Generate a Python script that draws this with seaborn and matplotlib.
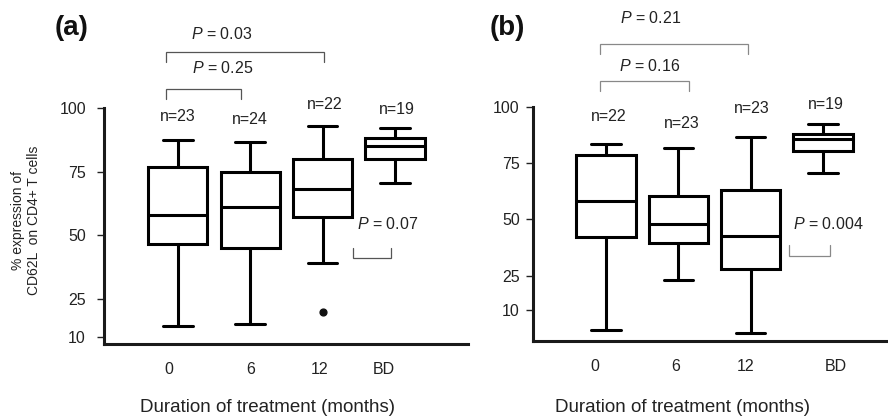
import numpy as np
import pandas as pd
import matplotlib
matplotlib.use("Agg")
import matplotlib.pyplot as plt
import seaborn as sns

# ---------------- data ----------------
groups = ["0", "6", "12", "BD"]

# panel (a): five-number summaries per group
a_low = [14.0, 15.1, 38.9, 70.6]
a_q1 = [46.6, 44.9, 56.9, 79.8]
a_med = [57.8, 60.9, 68.1, 85.2]
a_q3 = [76.7, 74.9, 79.8, 88.2]
a_high = [87.3, 86.5, 92.8, 92.0]
a_n = ["n=23", "n=24", "n=22", "n=19"]
a_outlier_group = [2]
a_outlier_value = [19.8]

# panel (b)
b_low = [0.9, 23.1, -0.3, 70.7]
b_q1 = [42.1, 39.6, 28.0, 80.4]
b_med = [58.4, 47.9, 42.7, 85.8]
b_q3 = [78.6, 60.4, 63.1, 88.0]
b_high = [83.5, 81.6, 86.6, 92.2]
b_n = ["n=22", "n=23", "n=23", "n=19"]

yticks = [10, 25, 50, 75, 100]
a_pvals = ["0.25", "0.03", "0.07"]
b_pvals = ["0.16", "0.21", "0.004"]
xlabel = "Duration of treatment (months)"
ylabel = "% expression of\nCD62L  on CD4+ T cells"


def frame(low, q1, med, q3, high):
    rows = []
    for g, *vals in zip(groups, low, q1, med, q3, high):
        for v in vals:
            rows.append({"group": g, "value": v})
    return pd.DataFrame(rows)


df_a = frame(a_low, a_q1, a_med, a_q3, a_high)
df_b = frame(b_low, b_q1, b_med, b_q3, b_high)

# ---------------- style ----------------
sns.set_theme(style="white")
plt.rcParams["font.family"] = ["Liberation Sans", "DejaVu Sans"]
plt.rcParams["mathtext.fontset"] = "custom"
plt.rcParams["mathtext.rm"] = "Liberation Sans"
plt.rcParams["mathtext.it"] = "Liberation Sans:italic"

W, H = 888, 418
fig = plt.figure(figsize=(W / 100, H / 100), dpi=100)


def rect(l, r, t, b):
    return [l / W, (H - b) / H, (r - l) / W, (b - t) / H]


ax_a = fig.add_axes(rect(104, 468, 108, 344))
ax_b = fig.add_axes(rect(533, 888, 106.7, 341))

LW = 2.2
BR = "#555555"
FS = 11.5


def draw(ax, df, ylim, xlim, ticklab_pos, tickpad):
    sns.boxplot(data=df, x="group", y="value", order=groups, color="white",
                linecolor="black", linewidth=LW, width=0.82, whis=(0, 100),
                showfliers=False, saturation=1, ax=ax)
    ax.set_xlim(*xlim)
    ax.set_ylim(*ylim)
    ax.set_xlabel("")
    ax.set_ylabel("")
    ax.set_yticks(yticks)
    ax.set_yticklabels([str(t) for t in yticks])
    ax.set_xticks(ticklab_pos)
    ax.set_xticklabels(groups)
    for s in ["top", "right"]:
        ax.spines[s].set_visible(False)
    for s in ["left", "bottom"]:
        ax.spines[s].set_linewidth(LW)
        ax.spines[s].set_color("#1a1a1a")
    ax.tick_params(axis="x", length=0, pad=13, labelsize=FS, colors="#222222")
    ax.tick_params(axis="y", length=5, width=1, pad=tickpad, labelsize=FS,
                   left=True, direction="out", colors="#222222")
    ax.grid(False)


def bracket(ax, x0, x1, ytop, ybot):
    ax.plot([x0, x0, x1, x1], [ybot, ytop, ytop, ybot], color=BR, lw=0.9,
            clip_on=False, solid_joinstyle="miter")


def ptext(ax, x, y, p):
    ax.text(x, y, f"$P$ = {p}", ha="center", va="center", fontsize=FS,
            color="#222222", clip_on=False)


# panel (a)
draw(ax_a, df_a, (7.1, 100), (-1.02, 4.01), [-0.12, 1.01, 1.96, 2.85], 8)
ax_a.scatter(a_outlier_group, a_outlier_value, s=24, color="#111111", zorder=5)
for x, y, t in zip([0, 1.0, 2.03, 3.03], [96.6, 95.6, 101.2, 99.6], a_n):
    ax_a.text(x, y, t, ha="center", va="center", fontsize=FS, color="#222222",
              clip_on=False)
bracket(ax_a, -0.17, 0.87, 107.4, 103.7)
bracket(ax_a, -0.17, 2.02, 121.9, 118.2)
ptext(ax_a, 0.62, 115.9, a_pvals[0])
ptext(ax_a, 0.61, 129.0, a_pvals[1])
bracket(ax_a, 2.42, 2.95, 40.8, 44.8)
ptext(ax_a, 2.9, 54.5, a_pvals[2])

# panel (b)
draw(ax_b, df_b, (-3.9, 100), (-1.01, 3.9), [-0.16, 0.96, 1.93, 3.18], 4.5)
for x, y, t in zip([0.04, 1.05, 2.02, 3.04], [95.6, 92.4, 99.0, 101.1], b_n):
    ax_b.text(x, y, t, ha="center", va="center", fontsize=FS, color="#222222",
              clip_on=False)
BR = "#888888"
bracket(ax_b, -0.09, 1.15, 111.4, 107.0)
bracket(ax_b, -0.09, 1.97, 127.9, 123.4)
ptext(ax_b, 0.6, 118.0, b_pvals[0])
ptext(ax_b, 0.62, 139.2, b_pvals[1])
bracket(ax_b, 2.53, 3.1, 34.0, 38.7)
ptext(ax_b, 3.08, 48.0, b_pvals[2])

# figure-level texts
fig.text(72 / W, 1 - 28 / H, "(a)", fontsize=20, fontweight="bold",
         ha="center", va="center", color="#111111")
fig.text(507 / W, 1 - 28 / H, "(b)", fontsize=20, fontweight="bold",
         ha="center", va="center", color="#111111")
fig.text(267 / W, 1 - 408 / H, xlabel, fontsize=13.5, ha="center", va="center",
         color="#222222")
fig.text(682 / W, 1 - 408 / H, xlabel, fontsize=13.5, ha="center", va="center",
         color="#222222")
fig.text(26 / W, 1 - 220 / H, ylabel, fontsize=10, rotation=90,
         ha="center", va="center", multialignment="center", color="#222222",
         linespacing=1.15)

fig.savefig("out.png", dpi=100)
